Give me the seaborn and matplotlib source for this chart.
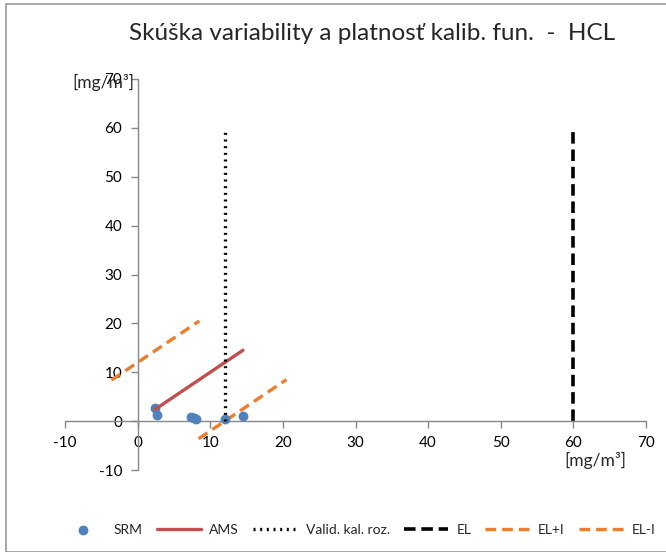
import matplotlib
matplotlib.use("Agg")
import matplotlib.pyplot as plt
import seaborn as sns
import pandas as pd
from matplotlib.patches import Rectangle

sns.set_theme(style="white")
plt.rcParams['font.family'] = ['Lato', 'DejaVu Sans']

# Data
srm_x = [2.4, 2.6, 7.3, 7.8, 8.1, 12.0, 14.5]
srm_y = [2.6, 1.2, 0.9, 0.7, 0.5, 0.5, 1.1]
ams_x = [2.4, 14.5]
ams_y = [2.4, 14.5]
valid_x = [12, 12]
valid_y = [0, 60]
el_x = [60, 60]
el_y = [0, 60]
elpi_x = [-3.6, 8.5]
elpi_y = [8.4, 20.5]
elmi_x = [8.4, 20.5]
elmi_y = [-3.6, 8.5]
ticks = [-10, 0, 10, 20, 30, 40, 50, 60, 70]

blue = "#4F81BD"
red = "#C0504D"
orange = "#ED7D31"

fig = plt.figure(figsize=(6.66, 5.52), dpi=100)
fig.patches.append(Rectangle((6/666, 0), 1.2, 1 - 4/552, transform=fig.transFigure,
                             fill=False, edgecolor="#999999", linewidth=1.2, zorder=0))
ax = fig.add_axes([65/666, 1 - 470/552, 581/666, 391/552])

sns.scatterplot(x=srm_x, y=srm_y, ax=ax, color=blue, s=50, edgecolor=blue, linewidth=0,
                label="SRM", zorder=3)
sns.lineplot(x=ams_x, y=ams_y, ax=ax, color=red, linewidth=2.4, label="AMS",
             estimator=None, sort=False, zorder=4)
sns.lineplot(x=valid_x, y=valid_y, ax=ax, color="black", linewidth=2.4, label="Valid. kal. roz.",
             estimator=None, sort=False, zorder=5)
ax.lines[-1].set_linestyle((0, (0.6, 1.4)))
sns.lineplot(x=el_x, y=el_y, ax=ax, color="black", linewidth=2.6, label="EL",
             estimator=None, sort=False)
ax.lines[-1].set_linestyle((0, (3.2, 1.6)))
sns.lineplot(x=elpi_x, y=elpi_y, ax=ax, color=orange, linewidth=2.4, label="EL+I",
             estimator=None, sort=False)
ax.lines[-1].set_linestyle((0, (3.2, 1.8)))
sns.lineplot(x=elmi_x, y=elmi_y, ax=ax, color=orange, linewidth=2.4, label="EL-I",
             estimator=None, sort=False)
ax.lines[-1].set_linestyle((0, (3.2, 1.8)))

ax.set_xlim(-10, 70)
ax.set_ylim(-10, 70)
ax.set_xticks(ticks)
ax.set_yticks(ticks)
ax.set_xticklabels([str(t) for t in ticks])
ax.set_yticklabels([str(t) for t in ticks])
for s in ["top", "right"]:
    ax.spines[s].set_visible(False)
for s in ["left", "bottom"]:
    ax.spines[s].set_position(("data", 0))
    ax.spines[s].set_color("#888888")
    ax.spines[s].set_linewidth(1)
ax.tick_params(axis="both", direction="out", length=5, width=1, color="#888888",
               labelsize=11, labelcolor="black", pad=6, bottom=True, left=True)
ax.patch.set_alpha(0)

ax.legend_.remove()
handles, labels = ax.get_legend_handles_labels()
fig.legend(handles, labels, loc="center", bbox_to_anchor=(358/666, 1 - 530/552), ncol=6,
           frameon=False, fontsize=10, handlelength=3.2, columnspacing=1.0, handletextpad=0.6)

fig.text(372/666, 1 - 33/552, "Skúška variability a platnosť kalib. fun.  -  HCL",
         ha="center", va="center", fontsize=17.5)
fig.text(103/666, 1 - 82/552, "[mg/m³]", ha="center", va="center", fontsize=12.5)
fig.text(595/666, 1 - 460/552, "[mg/m³]", ha="center", va="center", fontsize=12.5)

fig.savefig("out.png", dpi=100)
